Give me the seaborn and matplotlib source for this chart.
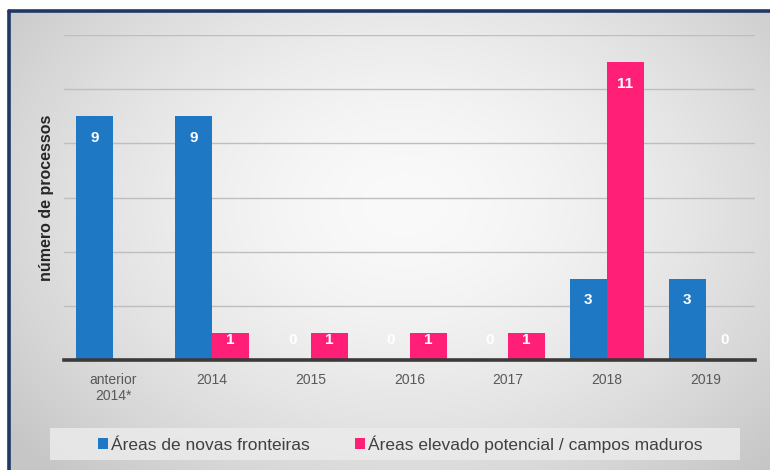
import numpy as np
import pandas as pd
import matplotlib
matplotlib.use("Agg")
import matplotlib.pyplot as plt
from matplotlib.patches import Rectangle
from matplotlib.lines import Line2D
import seaborn as sns

# Processes per period, by area type (no value recorded for the second series before 2014)
categories = ["anterior\n2014*", "2014", "2015", "2016", "2017", "2018", "2019"]
series_names = ["Áreas de novas fronteiras",
                "Áreas elevado potencial / campos maduros"]
novas_fronteiras = [9, 9, 0, 0, 0, 3, 3]
elevado_potencial = [None, 1, 1, 1, 1, 11, 0]
y_label = "número de processos"

colors = ["#1F78C4", "#FF1F77"]

df = pd.DataFrame({
    "periodo": categories * 2,
    "serie": [series_names[0]] * len(categories) + [series_names[1]] * len(categories),
    "valor": [np.nan if v is None else v for v in novas_fronteiras + elevado_potencial],
})

sns.set_theme(style="white")
plt.rcParams["font.family"] = ["Liberation Sans", "DejaVu Sans"]

W, H = 770, 470
fig = plt.figure(figsize=(W / 100, H / 100), dpi=100, facecolor="white")

# soft radial backdrop inside the frame
bg = fig.add_axes([9 / W, 0, 1 - 9 / W, (H - 12) / H], zorder=-10)
yy, xx = np.mgrid[0:1:300j, 0:1:500j]
r = np.sqrt(((xx - 0.52) / 0.62) ** 2 + ((yy - 0.58) / 0.75) ** 2)
shade = np.clip(250 - 46 * r ** 1.6, 198, 250) / 255.0
bg.imshow(np.dstack([shade] * 3), aspect="auto", extent=[0, 1, 0, 1], origin="lower")
bg.set_axis_off()

# frame lines on top and left
fig.add_artist(Line2D([8.5 / W, 1], [(H - 11) / H] * 2, color="#1F3864", lw=2.6,
                      transform=fig.transFigure))
fig.add_artist(Line2D([8.5 / W] * 2, [0, (H - 11) / H], color="#1F3864", lw=2.6,
                      transform=fig.transFigure))

ax = fig.add_axes([64 / W, (H - 360) / H, (755 - 64) / W, (360 - 35) / H])
ax.set_facecolor("none")
sns.barplot(data=df, x="periodo", y="valor", hue="serie", palette=colors,
            width=0.75, gap=0, saturation=1, ax=ax, legend=False, zorder=3,
            linewidth=0, edgecolor="none")

ax.set_ylim(0, 12)
ax.set_yticks(range(0, 13, 2))
ax.set_yticklabels([])
ax.yaxis.grid(True, color="#BEBEBE", lw=1, zorder=0)
ax.xaxis.grid(False)
for s in ["top", "right", "left"]:
    ax.spines[s].set_visible(False)
ax.spines["bottom"].set_color("#3A3A3A")
ax.spines["bottom"].set_linewidth(2.6)
ax.spines["bottom"].set_zorder(5)
ax.tick_params(axis="x", length=0, pad=9, labelsize=10, labelcolor="#595959")
ax.tick_params(axis="y", length=0)
ax.set_xlabel("")
ax.set_ylabel("")

# value labels inside the bar tops
for container in ax.containers:
    for bar in container:
        v = bar.get_height()
        if np.isnan(v):
            continue
        cx = bar.get_x() + bar.get_width() / 2
        ax.text(cx, max(v - 0.8, 0.75), f"{v:.0f}", ha="center", va="center",
                color="white", fontsize=11, fontweight="bold", zorder=6)

fig.text(47 / W, (H - 198) / H, y_label, rotation=90, ha="center", va="center",
         fontsize=11.5, fontweight="bold", color="#262626")

# legend on a pale band
fig.add_artist(Rectangle((50 / W, (H - 460) / H), (740 - 50) / W, 32 / H,
                         transform=fig.transFigure, facecolor="#EBEBEB",
                         edgecolor="none", alpha=0.85, zorder=1))
handles = [Rectangle((0, 0), 1, 1, facecolor=c, edgecolor="none") for c in colors]
fig.legend(handles, series_names, loc="center", ncol=2, frameon=False,
           bbox_to_anchor=(400 / W, (H - 444) / H), fontsize=12.5,
           labelcolor="#404040", handlelength=0.6, handleheight=0.6,
           handletextpad=0.15, columnspacing=2.6)

fig.savefig("out.png", dpi=100, facecolor="white")
